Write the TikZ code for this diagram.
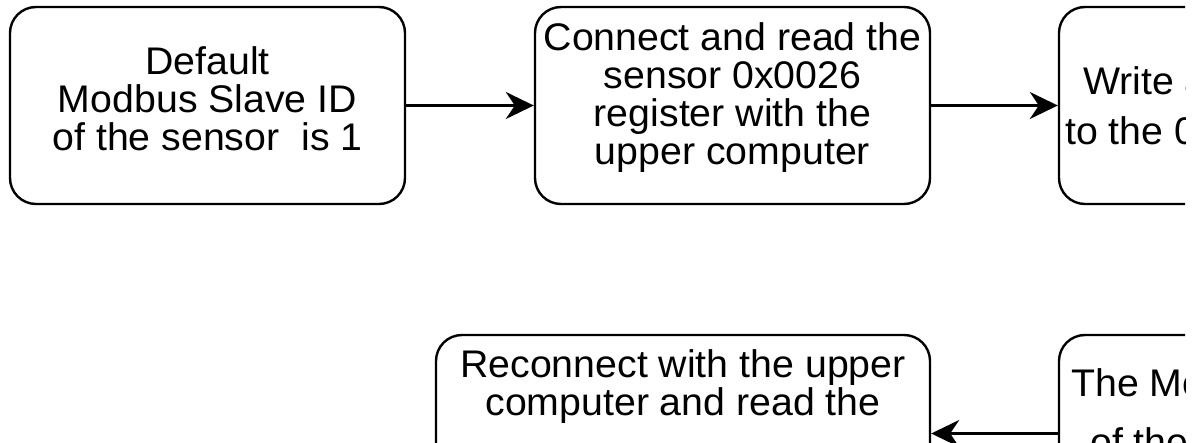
\documentclass[tikz,border=0pt]{standalone}
\usepackage{fontspec}
\setmainfont{Liberation Sans}[FakeStretch=1.02]
\usetikzlibrary{arrows.meta}
\begin{document}
\begin{tikzpicture}[x=1pt,y=-1pt,
  box/.style={draw, line width=2.4pt, rounded corners=26pt, minimum width=395pt, minimum height=197pt, inner sep=0pt},
  txt/.style={align=center, font=\fontsize{38.5}{38}\selectfont, inner sep=0pt},
  txtl/.style={font=\fontsize{38.5}{38}\selectfont, inner sep=0pt, anchor=base west},
  conn/.style={line width=2.4pt, -{Stealth[length=28pt,width=27pt,inset=9pt]}}]
\useasboundingbox (0,0) rectangle (1197,443);
\fill[white] (0,0) rectangle (1197,443);
\begin{scope}
\clip (0,0) rectangle (1185,443);
% boxes
\node[box] (b1) at (207.5,105.5) {};
\node[box] (b2) at (732.5,105.5) {};
\node[box] (b3) at (1256.5,105.5) {};
\node[box, minimum width=494pt] (b4) at (683,433.5) {};
\node[box] (b5) at (1256.5,433.5) {};
% texts
\node[txt, anchor=north] (t1) at (207.5,46) {Default\\Modbus Slave ID\\of the sensor\ \ is 1};
\node[txt, anchor=north] (t2) at (732.5,22) {Connect and read the\\sensor 0x0026\\register with the\\upper computer};
\node[txtl] (t3a) at (1083,95) {Write a};
\node[txtl] (t3b) at (1065,145) {to the 0x0026};
\node[txt, anchor=north] (t4) at (683,349) {Reconnect with the upper\\computer and read the};
\node[txtl] (t5a) at (1071,397) {The Modbus Slave ID};
\node[txtl] (t5b) at (1090,456) {of the sensor};
% connectors
\draw[conn] (b1.east) -- (b2.west);
\draw[conn] (b2.east) -- (b3.west);
\draw[conn] (b5.west) -- (b4.east);
\end{scope}
\end{tikzpicture}
\end{document}
